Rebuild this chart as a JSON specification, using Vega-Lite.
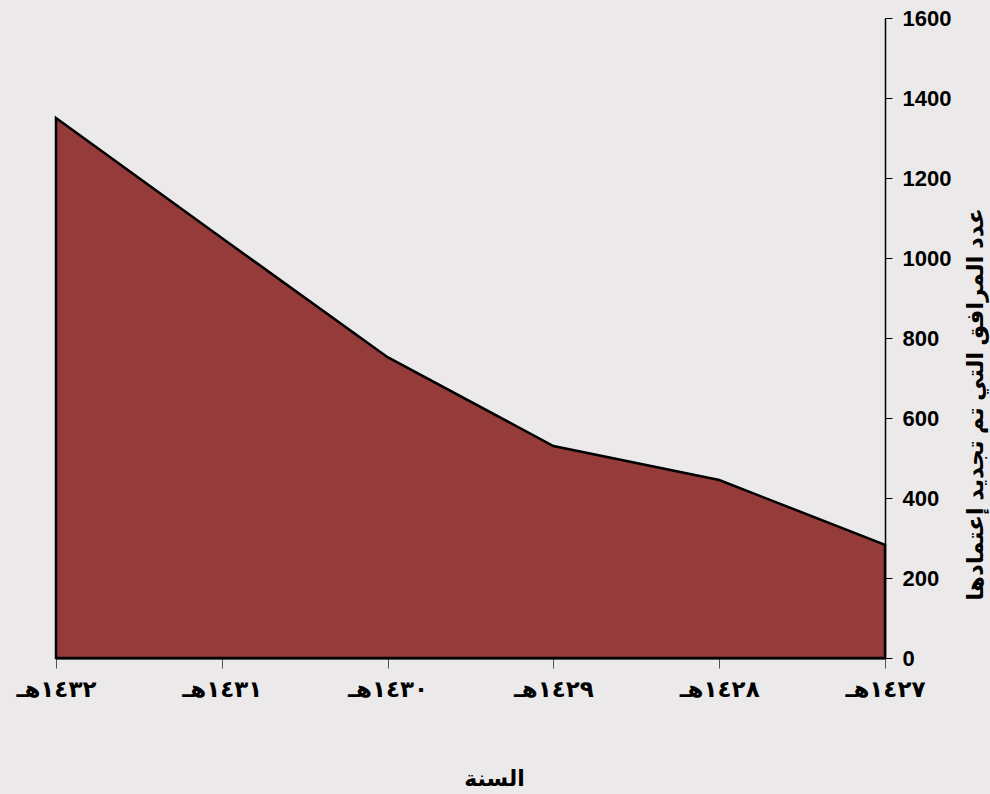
{
  "$schema": "https://vega.github.io/schema/vega-lite/v6.json",
  "width": 829,
  "height": 640,
  "autosize": "none",
  "padding": {"left": 56, "top": 18, "right": 105, "bottom": 136},
  "background": "#ebe9e9",
  "config": {
    "view": {"stroke": null},
    "font": "Arial, DejaVu Sans, sans-serif"
  },
  "data": {
    "values": [
      {"year": "١٤٣٢هـ", "count": 1350},
      {"year": "١٤٣١هـ", "count": 1050},
      {"year": "١٤٣٠هـ", "count": 752},
      {"year": "١٤٢٩هـ", "count": 530},
      {"year": "١٤٢٨هـ", "count": 445},
      {"year": "١٤٢٧هـ", "count": 283}
    ]
  },
  "mark": {
    "type": "area",
    "color": "#953b39",
    "fillOpacity": 1,
    "stroke": "#000000",
    "strokeWidth": 2.5,
    "strokeJoin": "miter"
  },
  "encoding": {
    "x": {
      "field": "year",
      "type": "ordinal",
      "sort": ["١٤٣٢هـ", "١٤٣١هـ", "١٤٣٠هـ", "١٤٢٩هـ", "١٤٢٨هـ", "١٤٢٧هـ"],
      "scale": {"type": "point", "padding": 0},
      "axis": {
        "title": "السنة",
        "titleFontSize": 22,
        "titleFontWeight": "bold",
        "titleColor": "#000000",
        "titleX": 438,
        "titleY": 120,
        "titleAlign": "center",
        "titleBaseline": "middle",
        "labelAngle": 0,
        "labelFontSize": 23,
        "labelFontWeight": "bold",
        "labelColor": "#000000",
        "labelPadding": 10,
        "domainColor": "#000000",
        "domainWidth": 2,
        "tickColor": "#555555",
        "tickSize": 10,
        "grid": false
      }
    },
    "y": {
      "field": "count",
      "type": "quantitative",
      "scale": {"domain": [0, 1600], "nice": false},
      "axis": {
        "orient": "right",
        "title": "عدد المرافق التي تم تجديد إعتمادها",
        "titleFontSize": 23,
        "titleFontWeight": "bold",
        "titleColor": "#000000",
        "titleAngle": 270,
        "titleX": 90,
        "titleY": 386,
        "titleAlign": "center",
        "titleBaseline": "middle",
        "values": [0, 200, 400, 600, 800, 1000, 1200, 1400, 1600],
        "format": "d",
        "labelFontSize": 22,
        "labelFontWeight": "bold",
        "labelColor": "#000000",
        "labelPadding": 10,
        "domainColor": "#000000",
        "domainWidth": 1.5,
        "tickColor": "#000000",
        "tickSize": 7,
        "grid": false
      }
    }
  }
}
